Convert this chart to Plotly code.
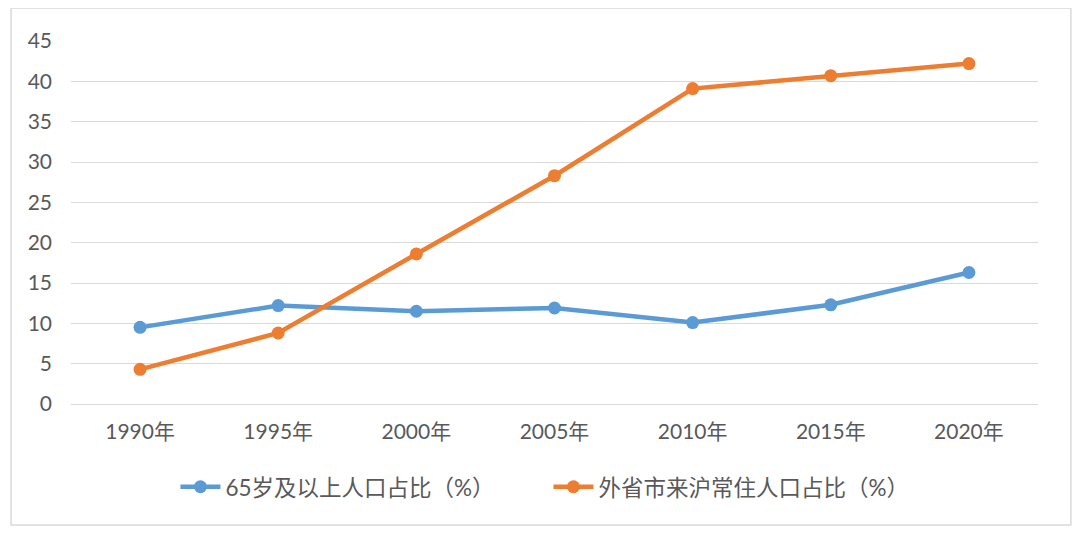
import plotly.graph_objects as go

years = ["1990年", "1995年", "2000年", "2005年", "2010年", "2015年", "2020年"]
elderly_share = [9.5, 12.2, 11.5, 11.9, 10.1, 12.3, 16.3]
migrant_share = [4.3, 8.8, 18.6, 28.3, 39.1, 40.7, 42.2]
y_ticks = [0, 5, 10, 15, 20, 25, 30, 35, 40, 45]

font_family = "Lato, 'Noto Sans CJK SC', sans-serif"

fig = go.Figure()
fig.add_trace(go.Scatter(
    x=years, y=elderly_share, mode="lines+markers",
    name="65岁及以上人口占比（%）",
    line=dict(color="#5B9BD5", width=4.5),
    marker=dict(size=13, color="#5B9BD5"),
))
fig.add_trace(go.Scatter(
    x=years, y=migrant_share, mode="lines+markers",
    name="外省市来沪常住人口占比（%）",
    line=dict(color="#ED7D31", width=4.5),
    marker=dict(size=13, color="#ED7D31"),
))

# page has an 8px body margin, so the figure is sized/offset to compensate
fig.update_layout(
    width=1072, height=527,
    paper_bgcolor="white", plot_bgcolor="white",
    margin=dict(l=63, r=42, t=33, b=131),
    font=dict(family=font_family, size=21, color="#595959"),
    showlegend=True,
    legend=dict(orientation="h", x=0.108, xanchor="left", y=-0.229, yanchor="middle",
                font=dict(size=22.5, color="#595959"), itemwidth=40,
                entrywidth=318, entrywidthmode="pixels", traceorder="normal"),
    xaxis=dict(type="category", range=[-0.5, 6.5], showgrid=False, showline=True,
               linecolor="#D9D9D9", linewidth=1, ticks="", ticklabelstandoff=9,
               zeroline=False),
    yaxis=dict(range=[0, 45], tickvals=y_ticks, showgrid=True, gridcolor="#D9D9D9",
               gridwidth=1, zeroline=False, showline=False, ticks="",
               ticklabelstandoff=18),
    shapes=[dict(type="rect", xref="paper", yref="paper",
                 x0=-0.062, x1=1.034, y0=-0.333, y1=1.091,
                 line=dict(color="#D9D9D9", width=1.5), fillcolor="rgba(0,0,0,0)",
                 layer="below")],
)

fig.write_html("out.html")
